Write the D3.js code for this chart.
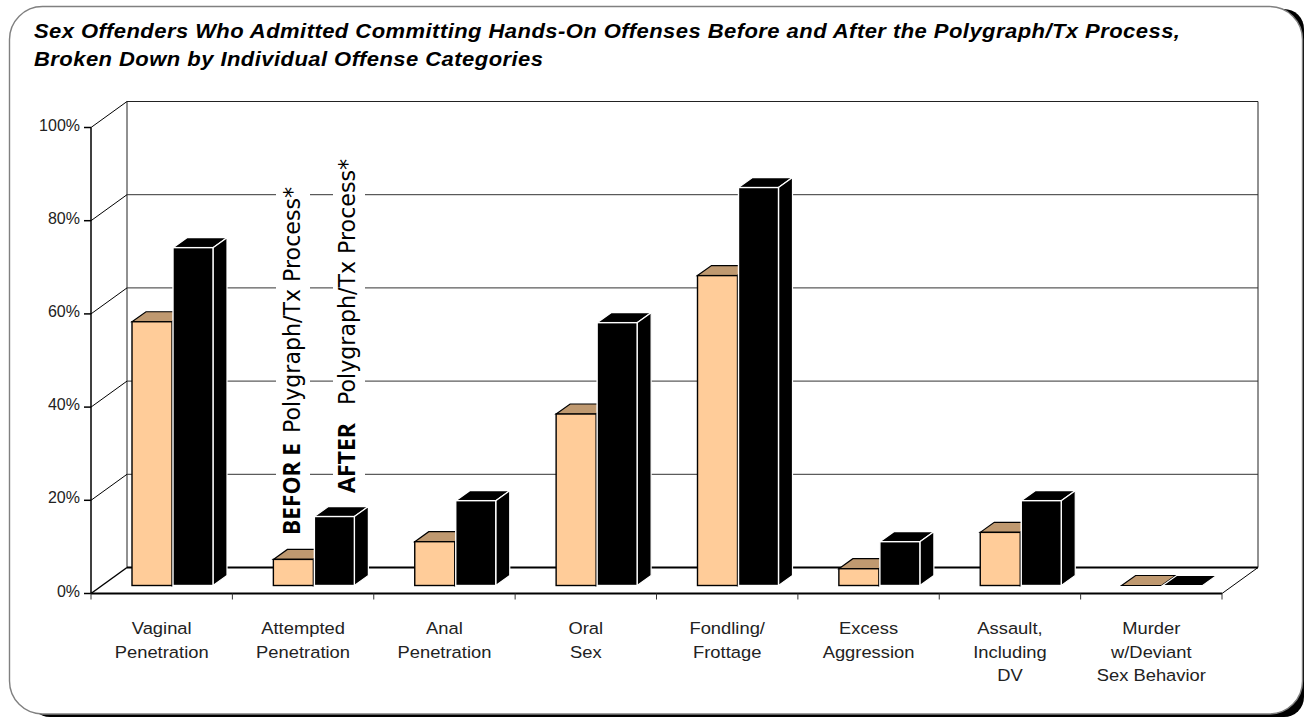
<!DOCTYPE html>
<html><head><meta charset="utf-8">
<script src="https://cdnjs.cloudflare.com/ajax/libs/d3/7.8.5/d3.min.js"></script>
<style>html,body{margin:0;padding:0;background:#fff;overflow:hidden}svg{display:block}</style>
</head><body><svg id="c" width="1304" height="717"></svg>
<script>
const titleLines=["Sex Offenders Who Admitted Committing Hands-On Offenses Before and After the Polygraph/Tx Process,","Broken Down by Individual Offense Categories"];
const categories=["Vaginal|Penetration","Attempted|Penetration","Anal|Penetration","Oral|Sex","Fondling/|Frottage","Excess|Aggression","Assault,|Including|DV","Murder|w/Deviant|Sex Behavior"];
const beforeValues=[56.6,5.6,9.4,36.8,66.5,3.6,11.4,0];
const afterValues=[72.5,14.8,18.2,56.4,85.4,9.4,18.2,0];
const yTicks=[0,20,40,60,80,100];
const FONT="'Liberation Sans',Arial,sans-serif";
const svg=d3.select("#c");
// panel
svg.append("rect").attr("x",30).attr("y",9).attr("width",1274).attr("height",708).attr("rx",20).attr("fill","#000");
svg.append("rect").attr("x",9.5).attr("y",6.5).attr("width",1293).attr("height",707.5).attr("rx",33).attr("fill","#fff").attr("stroke","#808080").attr("stroke-width",1.4);
// title
svg.append("g").selectAll("text").data(titleLines).join("text")
 .attr("transform",(d,i)=>`translate(34,${38+i*28}) scale(1.1,1)`).text(d=>d)
 .attr("font-family",FONT).attr("font-size",20).attr("letter-spacing",0.41).attr("font-weight","bold").attr("font-style","italic").attr("fill","#000");
const x0=91,x1=1222,dx=36,dy=-26;
const y=d3.scaleLinear().domain([0,100]).range([593.5,127.5]);
const x=d3.scaleBand().domain(categories).range([x0,x1]);
const g=svg.append("g");
// back wall and side wall
g.append("path").attr("d",`M${x0+dx},${y(0)+dy}V${y(100)+dy}H${x1+dx}V${y(0)+dy}`).attr("fill","none").attr("stroke","#222").attr("stroke-width",1);
yTicks.forEach(t=>{
  const yy=y(t);
  g.append("line").attr("x1",x0).attr("y1",yy).attr("x2",x0+dx).attr("y2",yy+dy).attr("stroke","#000").attr("stroke-width",t===0?1.5:1);
  if(t<100) g.append("line").attr("x1",x0+dx).attr("y1",yy+dy).attr("x2",x1+dx).attr("y2",yy+dy).attr("stroke",t===0?"#000":"#333").attr("stroke-width",t===0?1.8:1);
  g.append("line").attr("x1",x0-7).attr("y1",yy).attr("x2",x0).attr("y2",yy).attr("stroke","#000").attr("stroke-width",1.5);
  g.append("text").attr("x",x0-11).attr("y",yy+3).attr("text-anchor","end").text(t+"%").attr("font-family",FONT).attr("font-size",16).attr("fill","#222");
});
// floor right edge + axes
g.append("line").attr("x1",x1).attr("y1",y(0)).attr("x2",x1+dx).attr("y2",y(0)+dy).attr("stroke","#000").attr("stroke-width",1);
g.append("line").attr("x1",x0).attr("y1",y(0)).attr("x2",x1).attr("y2",y(0)).attr("stroke","#000").attr("stroke-width",1.8);
g.append("line").attr("x1",x0).attr("y1",y(0)).attr("x2",x0).attr("y2",y(100)).attr("stroke","#000").attr("stroke-width",1.5);
categories.concat([null]).forEach((c,i)=>{
  const xx=c?x(c):x1;
  g.append("line").attr("x1",xx).attr("x2",xx).attr("y1",y(0)).attr("y2",y(0)+6).attr("stroke","#333").attr("stroke-width",1);
});
// white boxes behind rotated legend text
const boxes=[[276,34],[333,32]];
boxes.forEach(b=>g.append("rect").attr("x",b[0]).attr("y",150).attr("width",b[1]).attr("height",390).attr("fill","#fff"));
// bars
const baseShift=-8, bw=40, ddx=14, ddy=-10;
function bar(xl,v,front,topc,side,stroke){
  const yb=y(0)+baseShift, yt=y(v)+baseShift;
  const m=g.append("g");
  m.append("path").attr("d",`M${xl},${yt}l${ddx},${ddy}h${bw}l${-ddx},${-ddy}z`).attr("fill",topc).attr("stroke",stroke).attr("stroke-width",1.2);
  if(v>0){
    m.append("path").attr("d",`M${xl+bw},${yt}l${ddx},${ddy}V${yb+ddy}l${-ddx},${-ddy}z`).attr("fill",side).attr("stroke",stroke).attr("stroke-width",1.2);
    m.append("rect").attr("x",xl).attr("y",yt).attr("width",bw).attr("height",yb-yt).attr("fill",front).attr("stroke",stroke).attr("stroke-width",1.4);
  }
}
categories.forEach((c,i)=>{
  const xs=x(c)+41;
  bar(xs,beforeValues[i],"#ffcc99","#bf9970","#bf9970","#000");
  bar(xs+41,afterValues[i],"#000","#000","#000","#fff");
});
// category labels
categories.forEach(c=>{
  const cx=x(c)+x.bandwidth()/2;
  c.split("|").forEach((l,i)=>{
    g.append("text").attr("transform",`translate(${cx},${634+i*23.5}) scale(1.08,1)`).attr("text-anchor","middle").text(l).attr("font-family",FONT).attr("font-size",17).attr("fill","#222");
  });
});
// series labels
function vlabel(xx,yBold,lenBold,yRest,bold,rest){
  g.append("text").attr("transform",`translate(${xx},${yBold}) rotate(-90)`).attr("font-family","'Open Sans',sans-serif").attr("font-size",22.5).attr("font-weight","bold").attr("fill","#000").attr("textLength",lenBold).attr("lengthAdjust","spacingAndGlyphs").text(bold);
  g.append("text").attr("transform",`translate(${xx},${yRest}) rotate(-90)`).attr("font-family","'DejaVu Sans',sans-serif").attr("font-size",23).attr("fill","#000").attr("textLength",246).attr("lengthAdjust","spacingAndGlyphs").text(rest);
}
vlabel(300,535,92,433,"BEFOR E","Polygraph/Tx Process*");
vlabel(355,493,70,405,"AFTER","Polygraph/Tx Process*");
</script></body></html>
